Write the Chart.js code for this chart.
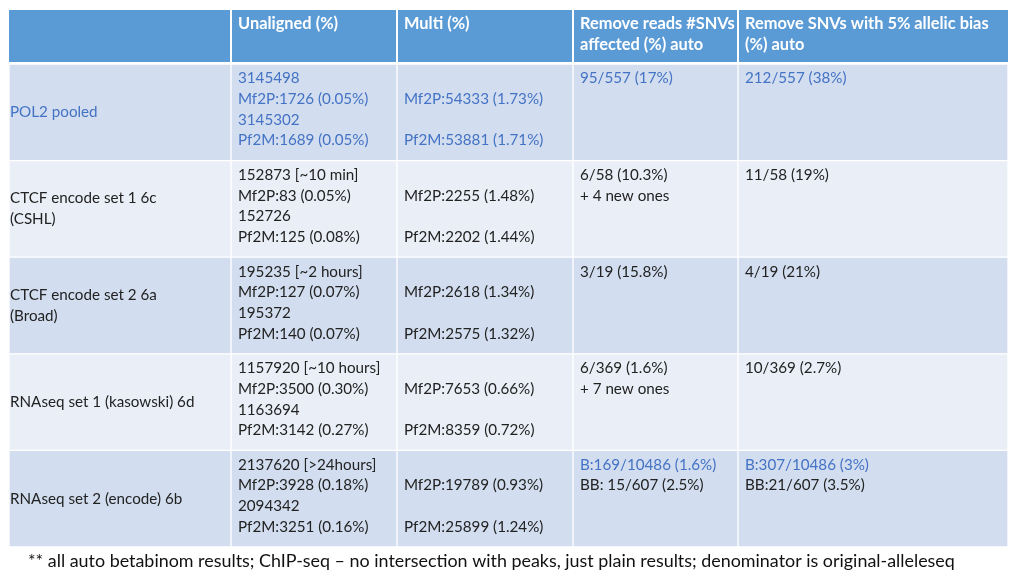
<!DOCTYPE html>
<html>
<head>
<meta charset="utf-8">
<script src="https://cdn.jsdelivr.net/npm/chart.js@4.4.1/dist/chart.umd.min.js"></script>
<style>
  body { margin: 0; background: #fff; }
  #wrap { width: 1024px; height: 576px; }
</style>
</head>
<body>
<div id="wrap"><canvas id="tbl"></canvas></div>
<script>
// data
const headers = [[''], ['Unaligned (%)'], ['Multi (%)'], ['Remove reads #SNVs', 'affected (%) auto'], ['Remove SNVs with 5% allelic bias', '(%) auto']];
const rowLabels = [['POL2 pooled'], ['CTCF encode set 1 6c', '(CSHL)'], ['CTCF encode set 2 6a', '(Broad)'], ['RNAseq set 1 (kasowski) 6d'], ['RNAseq set 2 (encode) 6b']];
const unaligned = [
  ['3145498', 'Mf2P:1726 (0.05%)', '3145302', 'Pf2M:1689 (0.05%)'],
  ['152873 [~10 min]', 'Mf2P:83 (0.05%)', '152726', 'Pf2M:125 (0.08%)'],
  ['195235 [~2 hours]', 'Mf2P:127 (0.07%)', '195372', 'Pf2M:140 (0.07%)'],
  ['1157920 [~10 hours]', 'Mf2P:3500 (0.30%)', '1163694', 'Pf2M:3142 (0.27%)'],
  ['2137620 [>24hours]', 'Mf2P:3928 (0.18%)', '2094342', 'Pf2M:3251 (0.16%)']
];
const multi = [
  ['', 'Mf2P:54333 (1.73%)', '', 'Pf2M:53881 (1.71%)'],
  ['', 'Mf2P:2255 (1.48%)', '', 'Pf2M:2202 (1.44%)'],
  ['', 'Mf2P:2618 (1.34%)', '', 'Pf2M:2575 (1.32%)'],
  ['', 'Mf2P:7653 (0.66%)', '', 'Pf2M:8359 (0.72%)'],
  ['', 'Mf2P:19789 (0.93%)', '', 'Pf2M:25899 (1.24%)']
];
const removeReads = [['95/557 (17%)'], ['6/58 (10.3%)', '+ 4 new ones'], ['3/19 (15.8%)'], ['6/369 (1.6%)', '+ 7 new ones'], ['B:169/10486 (1.6%)', 'BB: 15/607 (2.5%)']];
const removeSNVs = [['212/557 (38%)'], ['11/58 (19%)'], ['4/19 (21%)'], ['10/369 (2.7%)'], ['B:307/10486 (3%)', 'BB:21/607 (3.5%)']];
const footnote = '** all auto betabinom results; ChIP-seq \u2013 no intersection with peaks, just plain results; denominator is original-alleleseq';

const columns = [rowLabels, unaligned, multi, removeReads, removeSNVs];

// layout / styles
const colWidths = [222, 166, 176, 165, 270];
const FONT = 'Lato, "Open Sans", sans-serif';
const headerBlue = '#5b9bd5';
const rowFills = ['#d2deef', '#eaeff7'];
const darkText = '#222222';
const blueText = '#4472c4';
// which lines are blue: whole first row, first line of the last two cells in the last row
const isBlue = (r, c, l) => r === 0 || (r === 4 && c >= 3 && l === 0);

const tablePlugin = {
  id: 'tablePlugin',
  beforeDatasetsDraw(chart) {
    const ctx = chart.ctx;
    const x = chart.scales.x;
    const top = 10;
    const bottom = chart.chartArea.top - 2;
    let acc = 0;
    ctx.save();
    colWidths.forEach((w, c) => {
      const x0 = x.getPixelForValue(acc);
      const x1 = x.getPixelForValue(acc + w);
      acc += w;
      ctx.fillStyle = headerBlue;
      ctx.fillRect(x0 + (c ? 1 : 0), top, x1 - x0 - (c ? 1 : 0) - (c < colWidths.length - 1 ? 1 : 0), bottom - top);
      ctx.fillStyle = '#ffffff';
      ctx.font = 'bold 16.4px ' + FONT;
      ctx.textBaseline = 'middle';
      headers[c].forEach((t, l) => ctx.fillText(t, x0 + 7, top + 14 + l * 21));
    });
    ctx.restore();
  },
  afterDatasetsDraw(chart) {
    const ctx = chart.ctx;
    ctx.save();
    ctx.textBaseline = 'middle';
    ctx.font = '15.2px ' + FONT;
    columns.forEach((col, c) => {
      const meta = chart.getDatasetMeta(c);
      col.forEach((lines, r) => {
        const bar = meta.data[r];
        const left = Math.min(bar.base, bar.x);
        const top = bar.y - bar.height / 2;
        let y0 = top + 14.5;
        if (c === 0) y0 = bar.y - (lines.length - 1) * 20.7 / 2;
        lines.forEach((t, l) => {
          ctx.fillStyle = isBlue(r, c, l) ? blueText : darkText;
          ctx.fillText(t, left + (c === 0 ? 1 : 7), y0 + l * 20.7);
        });
      });
    });
    ctx.restore();
  },
  afterDraw(chart) {
    const ctx = chart.ctx;
    ctx.save();
    ctx.font = '17.9px ' + FONT;
    ctx.fillStyle = '#111111';
    ctx.textBaseline = 'middle';
    ctx.fillText(footnote, 28, 561);
    ctx.restore();
  }
};

const ctx = document.getElementById('tbl').getContext('2d');
const tableChart = new Chart(ctx, {
  type: 'bar',
  data: {
    labels: rowLabels.map(l => l.join(' ')),
    datasets: colWidths.map((w, c) => ({
      label: headers[c].join(' '),
      data: rowLabels.map(() => w),
      backgroundColor: rowLabels.map((_, r) => rowFills[r % 2]),
      borderColor: '#ffffff',
      borderWidth: 1,
      borderSkipped: false,
      barPercentage: 1,
      categoryPercentage: 1
    }))
  },
  options: {
    indexAxis: 'y',
    responsive: true,
    maintainAspectRatio: false,
    animation: false,
    layout: { padding: { left: 9, right: 16, top: 64, bottom: 29 } },
    plugins: { legend: { display: false }, tooltip: { enabled: false } },
    scales: {
      x: { stacked: true, display: false, min: 0, max: colWidths.reduce((a, b) => a + b, 0) },
      y: { stacked: true, display: false }
    }
  },
  plugins: [tablePlugin]
});
</script>
</body>
</html>
